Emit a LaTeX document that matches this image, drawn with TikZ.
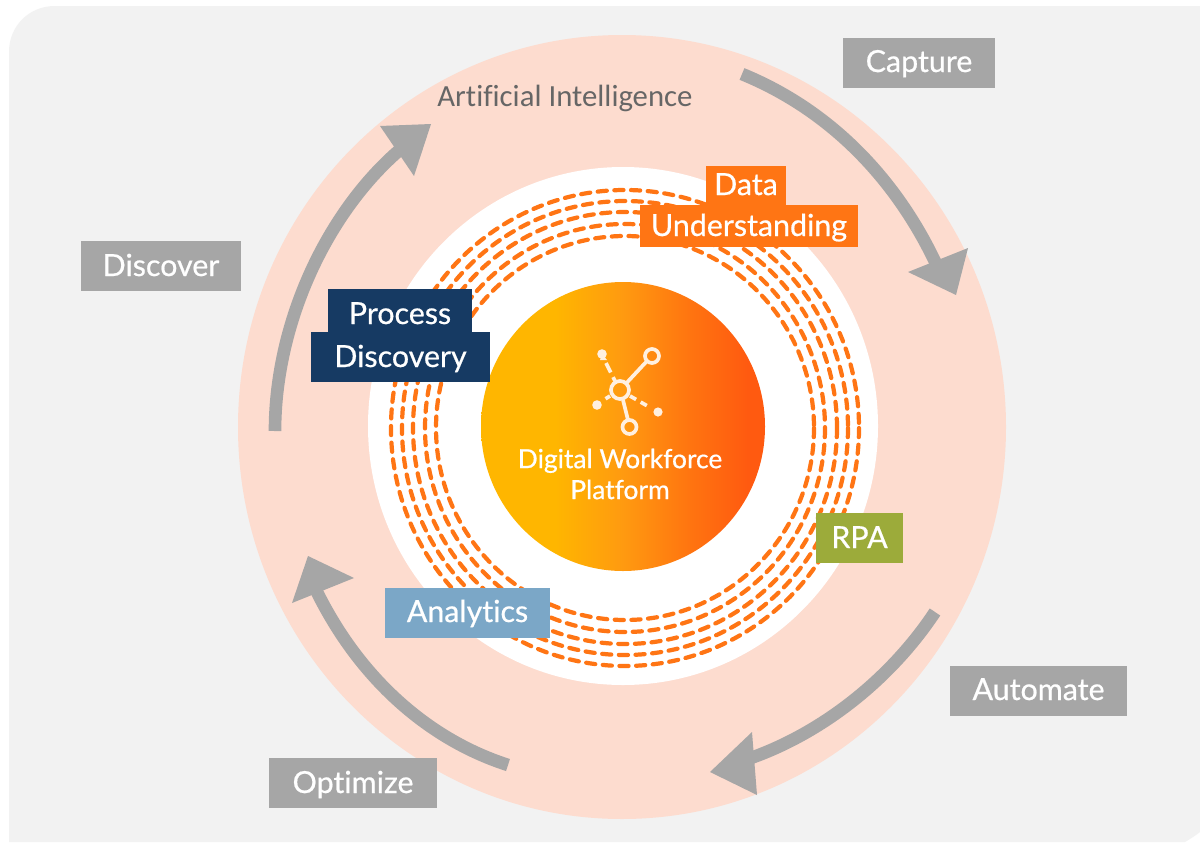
\documentclass[tikz,border=0pt]{standalone}
\usepackage{fontspec}
\setmainfont[Ligatures=NoCommon,FakeBold=0.6]{Lato}
\newfontfamily\carl[Ligatures=NoCommon]{Carlito}
\definecolor{coreA}{HTML}{FFB600}
\definecolor{coreB}{HTML}{FF9A10}
\definecolor{coreC}{HTML}{FF5A10}
\pgfdeclarehorizontalshading{corefill}{100bp}{color(0bp)=(coreA); color(38bp)=(coreA); color(50bp)=(coreB); color(62bp)=(coreB!40!coreC); color(72bp)=(coreC); color(100bp)=(coreC)}
\definecolor{bgc}{HTML}{F2F2F2}
\definecolor{peach}{HTML}{FDDCCF}
\definecolor{greyb}{HTML}{A6A6A6}
\definecolor{orangeb}{HTML}{FF7514}
\definecolor{navyb}{HTML}{163A63}
\definecolor{oliveb}{HTML}{9CAB3A}
\definecolor{blueb}{HTML}{7BA7C7}
\tikzset{
  x=0.02cm,y=-0.02cm,
  lab/.style={anchor=base,inner sep=0pt,outer sep=0pt,text=white,font=\fontsize{17.3}{19}\selectfont},
  ring/.style={draw=orangeb,line width=2.4pt,dash pattern=on 5.2pt off 4.3pt,line cap=round},
  sweep/.style={draw=greyb,line width=7.2pt},
  head/.style={fill=greyb,draw=none},
  ic/.style={draw=white!88!orange,line width=2.1pt},
  icd/.style={fill=white!88!orange,draw=none}
}
\newcommand{\lbox}[8]{% name x1 y1 x2 y2 color text baseline
  \fill[#6] (#2,#3) rectangle (#4,#5);
  \node[lab] (#1) at ({(#2+#4)/2},#8) {#7};
}
\begin{document}
\begin{tikzpicture}
\useasboundingbox (0,0) rectangle (1200,842);
\fill[white] (0,0) rectangle (1200,842);
\fill[bgc] (9,842) -- (9,52) .. controls (9,26) and (29,6) .. (55,6) -- (1200,6) -- (1200,832) .. controls (1195,836) and (1190,839) .. (1185,842) -- cycle;
% circles
\fill[peach] (622,427) ellipse[x radius=384,y radius=392];
\fill[white] (623,426) ellipse[x radius=255,y radius=259];
\foreach \r/\s in {234/238,223/227,212/216,200/204,189/192}{
  \draw[ring] (625,428) ellipse[x radius=\r,y radius=\s];
}
\shade[shading=corefill] (623,426.5) ellipse[x radius=142,y radius=144.5];
% icon
\draw[ic] (620,390) circle[radius=9];
\draw[ic] (652,356) circle[radius=7];
\draw[ic] (629.5,427) circle[radius=7];
\draw[ic] (626.5,383) -- (647,361);
\draw[ic] (623,400) -- (628,420);
\draw[ic,dash pattern=on 6pt off 3pt] (606,363) -- (615,381);
\draw[ic,dash pattern=on 4pt off 3pt] (630,396) -- (651,408);
\draw[ic,dash pattern=on 3pt off 3pt] (610,396) -- (602,401);
\fill[icd] (602,354) circle[radius=4.8];
\fill[icd] (597,405) circle[radius=4.8];
\fill[icd] (658,412) circle[radius=4.6];
\fill[icd] (602,354) -- (600,360) -- (607,360) -- cycle;
\node[lab,font=\fontsize{15}{17.6}\selectfont,align=center,anchor=center] (core) at (620,474) {Digital Workforce\\Platform};
% arrows
\draw[sweep] (742,74) .. controls (835,112) and (900,185) .. (938,268);
\fill[head] (968,248) -- (908,272) -- (956,295) -- cycle;
\draw[sweep] (935,612) .. controls (890,680) and (820,735) .. (745,760);
\fill[head] (752,732) -- (710,772) -- (757,795) -- cycle;
\draw[sweep] (508,765) .. controls (430,740) and (360,680) .. (316,590);
\fill[head] (292,603) -- (308,556) -- (354,578) -- cycle;
\draw[sweep] (275,431) .. controls (275,320) and (330,205) .. (408,143);
\fill[head] (431,124) -- (380,126) -- (414,176) -- cycle;
% labels
\node[inner sep=0pt,text=black!60,font=\carl\fontsize{17.5}{19}\selectfont,anchor=base] (ai) at (565,106) {Artificial Intelligence};
\lbox{capture}{843}{38}{995}{88}{greyb}{Capture}{72}
\lbox{discover}{81}{241}{241}{291}{greyb}{Discover}{276}
\lbox{automate}{950}{666}{1127}{716}{greyb}{Automate}{700}
\lbox{optimize}{269}{758}{437}{808}{greyb}{Optimize}{793}
\lbox{data}{706}{166}{786}{205}{orangeb}{Data}{195}
\lbox{underst}{640}{205}{858}{247}{orangeb}{Understanding}{236}
\lbox{process}{328}{289}{472}{332}{navyb}{Process}{324}
\lbox{discovery}{311}{332}{490}{382}{navyb}{Discovery}{367}
\lbox{rpa}{816}{513}{903}{563}{oliveb}{RPA}{548}
\lbox{analytics}{385}{588}{550}{638}{blueb}{Analytics}{622}
\end{tikzpicture}
\end{document}
